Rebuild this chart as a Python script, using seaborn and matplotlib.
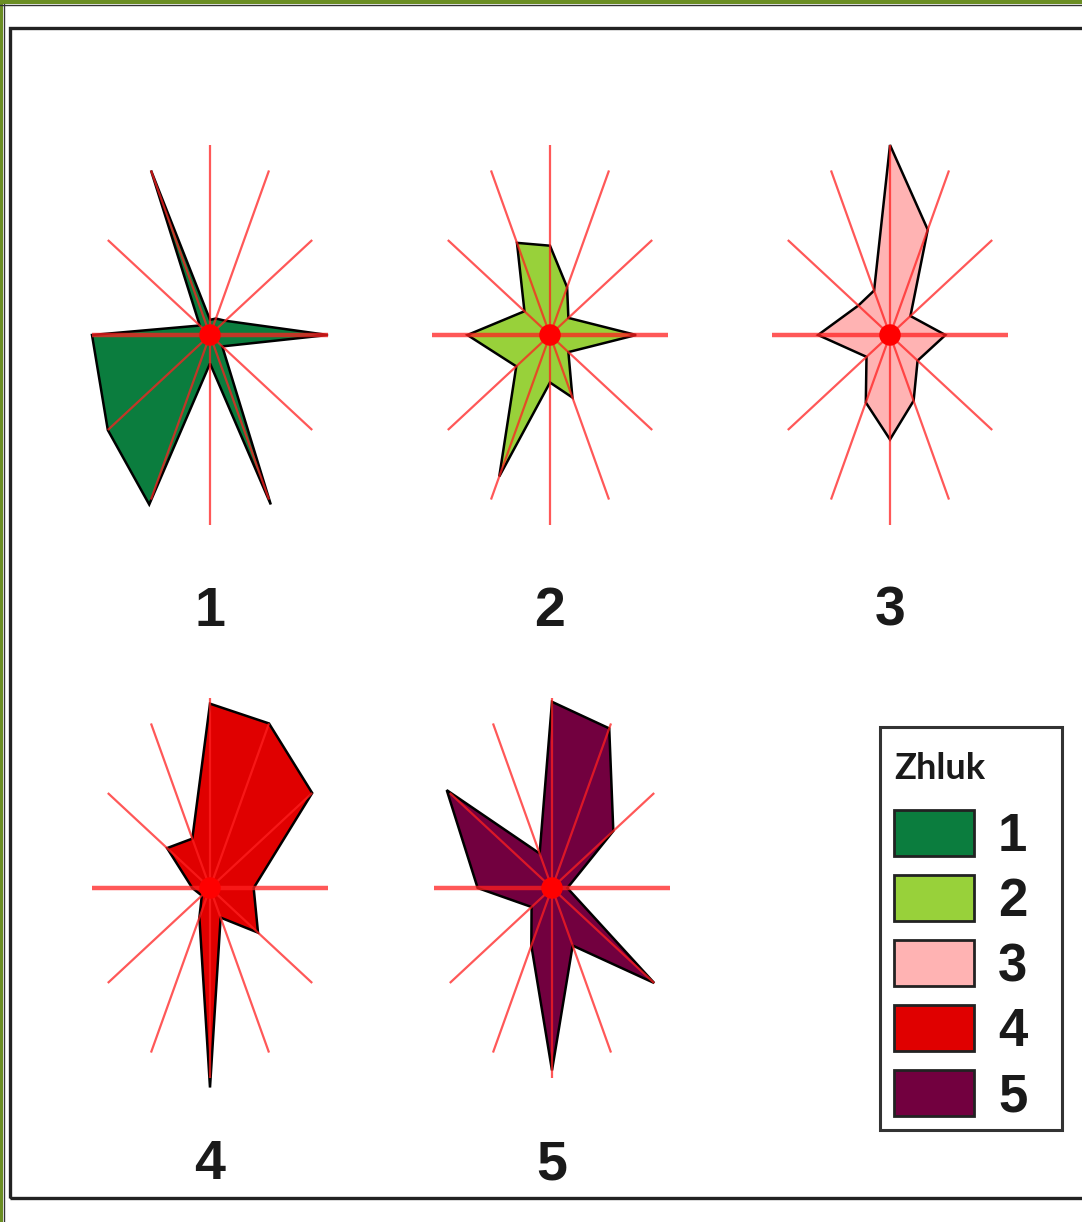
import numpy as np
import matplotlib
matplotlib.use("Agg")
import matplotlib.pyplot as plt
from matplotlib.patches import Patch, Rectangle
from matplotlib.lines import Line2D
import seaborn as sns

sns.set_theme(style="white")
digit_font = ['Liberation Sans Narrow', 'Liberation Sans', 'DejaVu Sans']
plt.rcParams['font.family'] = digit_font

# 12 variables, spokes every 30 degrees, starting at the right and going counter-clockwise
spoke_angles = np.deg2rad(np.arange(0, 360, 30))

cluster_names = ["1", "2", "3", "4", "5"]
cluster_colors = ["#0B7D3E", "#98D13A", "#FFB3B3", "#E00000", "#72003F"]

c1 = [1.00, 0.15, 0.10, 0.08, 1.00, 0.10, 1.00, 1.00, 1.03, 0.15, 1.03, 0.12]
c2 = [0.73, 0.18, 0.29, 0.47, 0.56, 0.25, 0.70, 0.33, 0.86, 0.25, 0.38, 0.18]
c3 = [0.47, 0.20, 0.64, 1.00, 0.27, 0.31, 0.61, 0.23, 0.41, 0.55, 0.40, 0.27]
c4 = [0.37, 1.00, 1.00, 0.97, 0.30, 0.42, 0.15, 0.08, 0.18, 1.05, 0.18, 0.47]
c5 = [0.13, 0.60, 0.97, 0.98, 0.21, 1.03, 0.63, 0.20, 0.35, 0.96, 0.35, 1.00]
cluster_values = [c1, c2, c3, c4, c5]

W, H = 1082, 1222
fig = plt.figure(figsize=(W / 100, H / 100), dpi=100)
fig.patch.set_facecolor("white")

# outer frame: olive band on top/left, black box inside
fig.add_artist(Rectangle((0, 1 - 4 / H), 1, 4 / H, transform=fig.transFigure,
                         facecolor="#6B8E23", edgecolor="none"))
fig.add_artist(Rectangle((0, 0), 3 / W, 1, transform=fig.transFigure,
                         facecolor="#6B8E23", edgecolor="none"))
fig.add_artist(Line2D([0, 1], [1 - 4.5 / H, 1 - 4.5 / H], transform=fig.transFigure,
                      color="#333333", lw=1))
fig.add_artist(Line2D([3.5 / W, 3.5 / W], [0, 1 - 4 / H], transform=fig.transFigure,
                      color="#333333", lw=1))
fig.add_artist(Rectangle((10 / W, 1 - 1198 / H), 1.2, (1198 - 28) / H,
                         transform=fig.transFigure, facecolor="none",
                         edgecolor="#222222", lw=2.4))

# chart centres in pixels (layout only)
centres = [(210, 335), (550, 335), (890, 335), (210, 888), (552, 888)]
label_y = [612, 612, 612, 1165, 1165]
ux, uy = 118, 190          # pixels per unit along x and y
aw, ah = 300, 420          # axes size in pixels

for i, (name, vals, col) in enumerate(zip(cluster_names, cluster_values, cluster_colors)):
    cx, cy = centres[i]
    ax = fig.add_axes([(cx - aw / 2) / W, 1 - (cy + ah / 2) / H, aw / W, ah / H])
    ax.set_xlim(-aw / 2 / ux, aw / 2 / ux)
    ax.set_ylim(-ah / 2 / uy, ah / 2 / uy)
    ax.axis("off")

    r = np.array(vals)
    xs = r * np.cos(spoke_angles)
    ys = r * np.sin(spoke_angles)
    ax.fill(xs, ys, facecolor=col, edgecolor="black", lw=1.8, zorder=2)

    for a in spoke_angles:
        horiz = abs(np.sin(a)) < 1e-6
        ax.plot([0, np.cos(a)], [0, np.sin(a)], color="#FF2020", alpha=0.75,
                lw=3.2 if horiz else 1.6, zorder=3, solid_capstyle="butt")

    sns.scatterplot(x=[0], y=[0], ax=ax, color="#FF0000", s=240,
                    edgecolor="none", zorder=4, legend=False)

    fig.text(cx / W, 1 - label_y[i] / H, name, ha="center", va="center",
             fontsize=40, fontweight="bold", color="#1A1A1A", family=digit_font)

# legend box drawn separately so the entries can sit lower inside it
fig.add_artist(Rectangle((880 / W, 1 - 1130 / H), 182 / W, 403 / H,
                         transform=fig.transFigure, facecolor="white",
                         edgecolor="#333333", lw=2.2, zorder=5))
handles = [Patch(facecolor=c, edgecolor="#222222", lw=2) for c in cluster_colors]
leg = fig.legend(handles, cluster_names, title="Zhluk", loc="upper left",
                 bbox_to_anchor=(894 / W, 1 - 752 / H), borderaxespad=0,
                 frameon=False, handlelength=1.52, handleheight=0.95,
                 labelspacing=0.25, borderpad=0, handletextpad=0.45,
                 alignment="left",
                 prop={"weight": "bold", "size": 38, "family": digit_font},
                 title_fontproperties={"weight": "bold", "size": 26,
                                       "family": ["Lato", "DejaVu Sans"]})
leg.set_zorder(6)
leg._legend_box.sep = 18
for t in leg.get_texts():
    t.set_color("#1A1A1A")
leg.get_title().set_color("#1A1A1A")

fig.savefig("out.png", dpi=100)
